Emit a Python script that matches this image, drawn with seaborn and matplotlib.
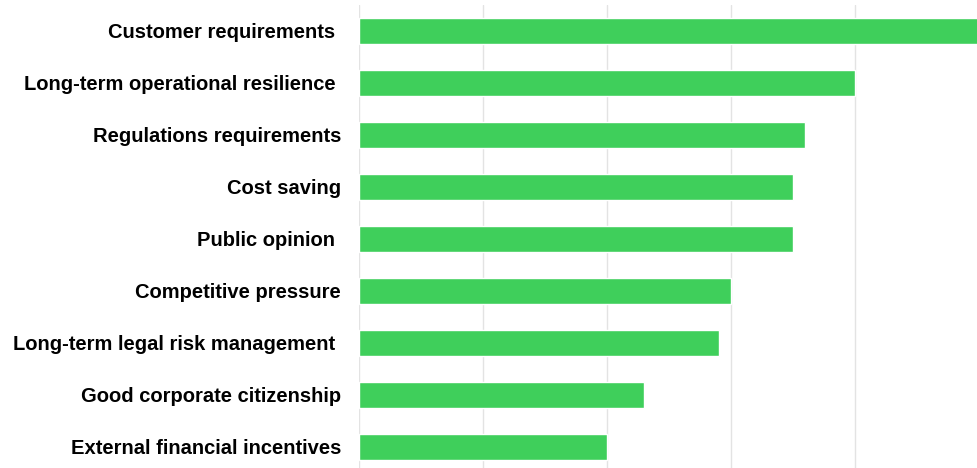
import pandas as pd
import matplotlib
matplotlib.use('Agg')
import matplotlib.pyplot as plt
import seaborn as sns

# data
categories = ['Customer requirements ', 'Long-term operational resilience ',
              'Regulations requirements', 'Cost saving', 'Public opinion ',
              'Competitive pressure', 'Long-term legal risk management ',
              'Good corporate citizenship', 'External financial incentives']
values = [50, 40, 36, 35, 35, 30, 29, 23, 20]

df = pd.DataFrame({'reason': categories, 'value': values})

sns.set_style('white')
plt.rcParams['font.family'] = ['Liberation Sans', 'DejaVu Sans']

fig = plt.figure(figsize=(9.77, 4.68), dpi=100)
# axes: left at 359px, 124px per 10 units, top at 5px
ax = fig.add_axes([359 / 977, -5 / 468, 620 / 977, 468 / 468])

sns.barplot(data=df, x='value', y='reason', color='#3fcf5b', saturation=1,
            width=0.5, ax=ax, zorder=2)

ax.set_xlim(0, 50)
ax.set_xticks([0, 10, 20, 30, 40, 50])
ax.grid(axis='x', color='#e3e3e3', linewidth=1, zorder=0)
ax.set_axisbelow(True)
ax.tick_params(axis='x', length=0, labelbottom=False)
ax.tick_params(axis='y', length=0, pad=13)
for lab in ax.get_yticklabels():
    lab.set_fontsize(14.5)
    lab.set_fontweight('bold')
    lab.set_color('#000000')
ax.set_xlabel('')
ax.set_ylabel('')
sns.despine(ax=ax, left=True, bottom=True)

fig.savefig('out.png', dpi=100)
